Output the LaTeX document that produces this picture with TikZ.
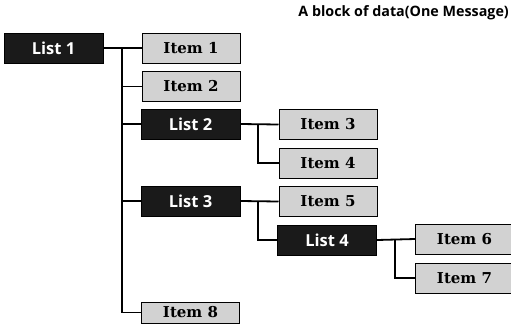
\documentclass[tikz,border=0pt]{standalone}
\usepackage{fontspec}
\setmainfont{DejaVu Serif}
\setsansfont{Open Sans}
\definecolor{listfill}{HTML}{1A1A1A}
\definecolor{itemfill}{HTML}{D2D2D2}
\tikzset{
  listbox/.style={draw=black, fill=listfill, line width=1pt, minimum width=99pt, minimum height=30pt, inner sep=0pt, text=white, font=\sffamily\bfseries\fontsize{16.5}{16.5}\selectfont},
  itembox/.style={draw=black, fill=itemfill, line width=1pt, minimum width=98pt, minimum height=30pt, inner sep=0pt, text=black, font=\rmfamily\bfseries\fontsize{15}{15}\selectfont},
  conn/.style={draw=black, line width=1.8pt}
}
\begin{document}
\begin{tikzpicture}[x=1pt,y=-1pt]
\useasboundingbox (0,0) rectangle (511,333);
% title
\node[anchor=east, inner sep=0pt, font=\sffamily\bfseries\fontsize{14.3}{14.3}\selectfont] (title) at (509,12.5) {A block of data(One Message)};
% nodes
\node[listbox] (L1) at (53.5,48) {List 1};
\node[itembox] (I1) at (191,48) {Item 1};
\node[itembox] (I2) at (191,86.5) {Item 2};
\node[listbox] (L2) at (190.5,124) {List 2};
\node[itembox] (I3) at (328,124.5) {Item 3};
\node[itembox] (I4) at (328,163) {Item 4};
\node[listbox] (L3) at (190.5,201) {List 3};
\node[itembox] (I5) at (328,201.5) {Item 5};
\node[listbox] (L4) at (327,240) {List 4};
\node[itembox] (I6) at (464.5,239) {Item 6};
\node[itembox] (I7) at (464.5,278) {Item 7};
\node[itembox, minimum height=21pt] (I8) at (190.5,312.5) {Item 8};
% branch coordinates
\coordinate (t1) at (122,48);
\coordinate (t2) at (258,124.5);
\coordinate (t3) at (258,201.5);
\coordinate (t4) at (395,239.5);
% connectors
\draw[conn] (L1.east) -- (I1.west);
\draw[conn] (t1) |- (I8.west);
\draw[conn] (t1) |- (I2.west);
\draw[conn] (t1) |- (L2.west);
\draw[conn] (t1) |- (L3.west);
\draw[conn] (L2.east) -- (I3.west);
\draw[conn] (t2) |- (I4.west);
\draw[conn] (L3.east) -- (I5.west);
\draw[conn] (t3) |- (L4.west);
\draw[conn] (L4.east) -- (I6.west);
\draw[conn] (t4) |- (I7.west);
\end{tikzpicture}
\end{document}
